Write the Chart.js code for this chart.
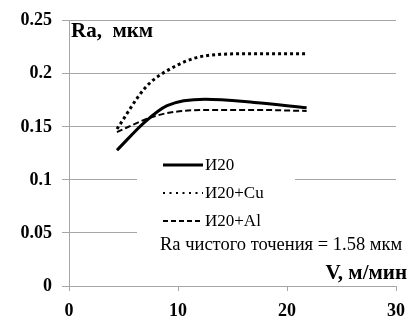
<!DOCTYPE html>
<html>
<head>
  <meta charset="utf-8">
  <title>Ra vs V</title>
  <style>
    html, body { margin: 0; padding: 0; background: #fff; }
    #wrap { width: 415px; height: 322px; }
  </style>
  <script src="https://cdn.jsdelivr.net/npm/chart.js"></script>
</head>
<body>
  <div id="wrap"><canvas id="raChart" width="415" height="322"></canvas></div>
  <script>
    // values
    const speeds = [4.4, 7, 9, 12.5, 17, 21.8];
    const raI20 = [0.128, 0.155, 0.170, 0.176, 0.173, 0.168];
    const raI20Cu = [0.148, 0.187, 0.203, 0.217, 0.219, 0.219];
    const raI20Al = [0.145, 0.157, 0.163, 0.166, 0.166, 0.165];
    const seriesNames = ['И20', 'И20+Cu', 'И20+Al'];
    const yTickLabels = ['0', '0.05', '0.1', '0.15', '0.2', '0.25'];
    const xTickLabels = ['0', '10', '20', '30'];
    const noteText = 'Ra чистого точения = 1.58 мкм';

    const serif = "'Liberation Serif', 'Times New Roman', serif";
    const gridGrey = '#a6a6a6';

    const styles = [
      { borderWidth: 3, borderDash: [] },
      { borderWidth: 3, borderDash: [3, 3] },
      { borderWidth: 2, borderDash: [6, 3] }
    ];

    function toPoints(vals) {
      return speeds.map((v, i) => ({ x: v, y: vals[i] }));
    }

    const datasets = [raI20, raI20Cu, raI20Al].map((vals, i) => ({
      label: seriesNames[i],
      data: toPoints(vals),
      borderColor: '#000',
      borderWidth: styles[i].borderWidth,
      borderDash: styles[i].borderDash,
      borderCapStyle: 'butt',
      pointRadius: 0,
      fill: false,
      cubicInterpolationMode: 'monotone'
    }));

    // draw text so that it spans roughly the given width (font size chosen from it)
    function fitText(ctx, text, x, y, width, weight, maxSize) {
      ctx.font = weight + ' 20px ' + serif;
      let size = 20 * width / ctx.measureText(text).width;
      if (size > maxSize) size = maxSize;
      ctx.font = weight + ' ' + size.toFixed(1) + 'px ' + serif;
      ctx.fillText(text, x, y);
    }

    // legend, note and axis titles drawn on top
    const overlay = {
      id: 'overlay',
      afterDatasetsDraw(chart) {
        const ctx = chart.ctx;
        ctx.save();
        ctx.fillStyle = '#fff';
        ctx.fillRect(137, 150, 158, 82);
        ctx.fillRect(137, 230, 275, 26);

        const rows = [165, 193, 221];
        ctx.strokeStyle = '#000';
        ctx.lineCap = 'butt';
        rows.forEach((y, i) => {
          ctx.beginPath();
          ctx.lineWidth = i === 0 ? 3 : 2;
          ctx.setLineDash(i === 0 ? [] : (i === 1 ? [2, 4.5] : [5, 3]));
          ctx.moveTo(163, y);
          ctx.lineTo(203, y);
          ctx.stroke();
        });
        ctx.setLineDash([]);
        ctx.fillStyle = '#000';
        ctx.textAlign = 'left';
        ctx.textBaseline = 'alphabetic';
        ctx.font = '17px ' + serif;
        rows.forEach((y, i) => ctx.fillText(seriesNames[i], 205, y + 5));

        fitText(ctx, noteText, 160, 250, 242, 'normal', 19);
        fitText(ctx, 'Ra,  мкм', 71, 37, 84, 'bold', 21);

        ctx.textAlign = 'right';
        fitText(ctx, 'V, м/мин', 407, 279, 92, 'bold', 21);
        ctx.restore();
      }
    };

    new Chart(document.getElementById('raChart'), {
      type: 'line',
      data: { datasets: datasets },
      plugins: [overlay],
      options: {
        responsive: false,
        animation: false,
        devicePixelRatio: 1,
        layout: { padding: { top: 19, right: 15, left: 0, bottom: 0 } },
        plugins: { legend: { display: false }, tooltip: { enabled: false } },
        scales: {
          x: {
            type: 'linear',
            min: 0,
            max: 30,
            ticks: {
              stepSize: 10,
              color: '#000',
              padding: 10,
              font: { family: serif, size: 18, weight: 'bold' },
              callback: (v) => xTickLabels[Math.round(v / 10)]
            },
            grid: { drawOnChartArea: false, tickLength: 5, color: gridGrey },
            border: { color: gridGrey, width: 1 },
            afterFit: (s) => { s.height = 36; }
          },
          y: {
            min: 0,
            max: 0.25,
            ticks: {
              stepSize: 0.05,
              color: '#000',
              padding: 10,
              font: { family: serif, size: 18, weight: 'bold' },
              callback: (v) => yTickLabels[Math.round(v / 0.05)]
            },
            grid: { color: gridGrey, tickLength: 7 },
            border: { color: gridGrey, width: 1 },
            afterFit: (s) => { s.width = 69; }
          }
        }
      }
    });
  </script>
</body>
</html>
